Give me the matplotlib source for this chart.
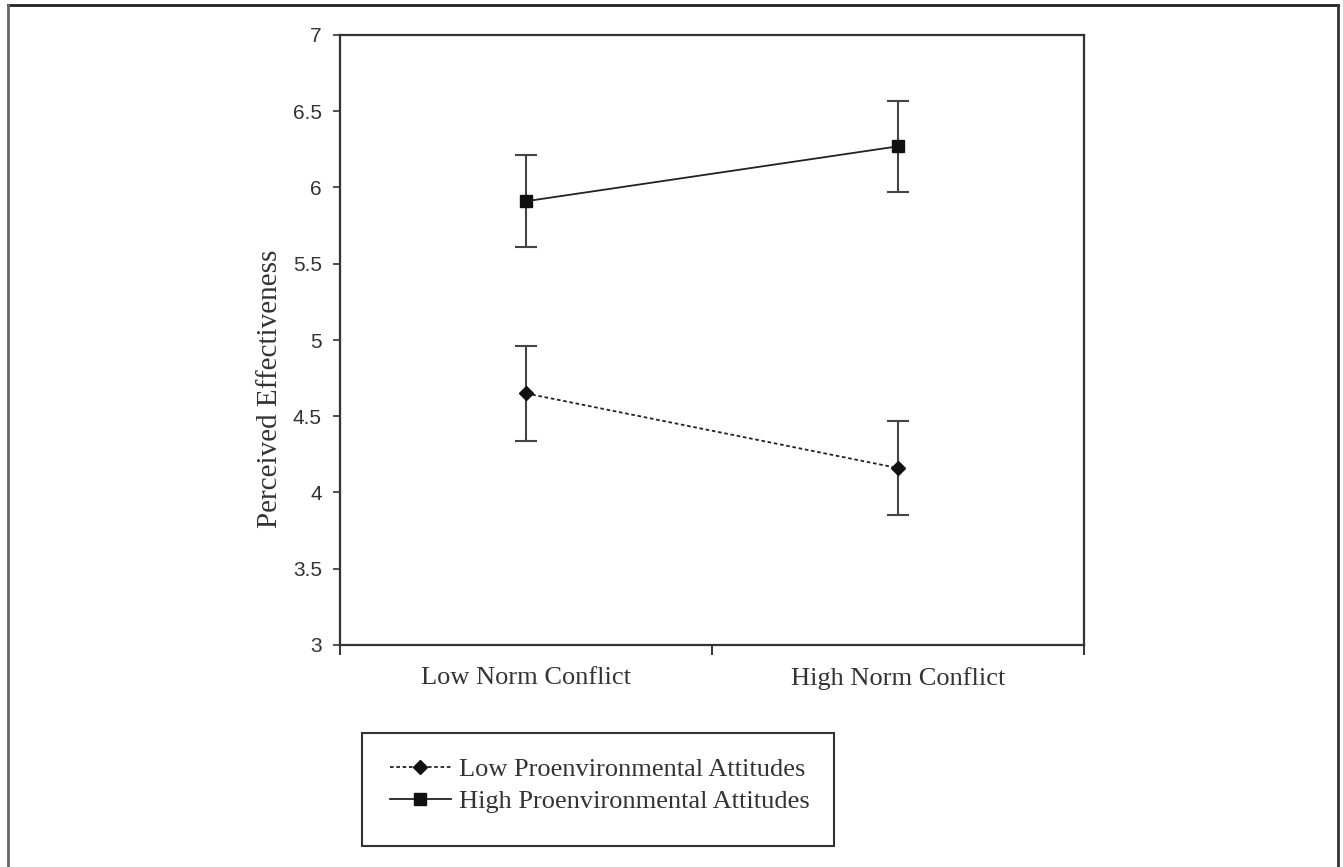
import matplotlib
matplotlib.use("Agg")
import matplotlib.pyplot as plt
from matplotlib.lines import Line2D
from matplotlib.patches import Rectangle

categories = ["Low Norm Conflict", "High Norm Conflict"]
low_att = [4.65, 4.16]
low_err = [0.31, 0.31]
high_att = [5.91, 6.27]
high_err = [0.30, 0.30]
series_labels = ["Low Proenvironmental Attitudes", "High Proenvironmental Attitudes"]
yticks = [3, 3.5, 4, 4.5, 5, 5.5, 6, 6.5, 7]

W, H = 1343, 867
fig = plt.figure(figsize=(W / 100, H / 100), dpi=100)
ax = fig.add_axes([340 / W, 1 - 645 / H, (1084 - 340) / W, (645 - 35) / H])

x = [0.5, 1.5]
low_style = dict(color="#222222", ls=(0, (2, 1.5)), lw=1.3, marker="D", ms=7, mfc="#111111", mec="#111111")
high_style = dict(color="#222222", ls="-", lw=1.3, marker="s", ms=9, mfc="#111111", mec="#111111")
ax.errorbar(x, low_att, yerr=low_err, ecolor="#444444",
            elinewidth=1.5, capsize=8, capthick=1.5, **low_style)
ax.errorbar(x, high_att, yerr=high_err, ecolor="#444444",
            elinewidth=1.5, capsize=8, capthick=1.5, **high_style)

ax.set_xlim(0, 2)
ax.set_ylim(3, 7)
ax.set_yticks(yticks)
ax.set_yticklabels([f"{v:g}" for v in yticks], fontfamily="Liberation Sans", fontsize=15, color="#333333")
ax.set_xticks([0, 1, 2])
ax.set_xticklabels([])
ax.set_xticks(x, minor=True)
ax.set_xticklabels(categories, minor=True, fontfamily="Liberation Serif", fontsize=19, color="#333333")
ax.tick_params(axis="x", which="minor", length=0, pad=16)
ax.tick_params(axis="x", which="major", direction="out", length=7, width=1.4, color="#333333")
ax.tick_params(axis="y", direction="out", length=5, width=1.2, color="#333333", pad=8)
for s in ax.spines.values():
    s.set_color("#333333")
    s.set_linewidth(1.6)
ax.set_ylabel("Perceived Effectiveness", fontfamily="Liberation Serif", fontsize=21, color="#333333")
ax.yaxis.set_label_coords(-0.076, 0.42)

handles = [Line2D([], [], **low_style), Line2D([], [], **high_style)]
leg = fig.legend(handles, series_labels, loc="upper left", bbox_to_anchor=(390 / W, 1 - 758 / H),
                 bbox_transform=fig.transFigure,
                 prop={"family": "Liberation Serif", "size": 19}, frameon=False,
                 handlelength=2.3, borderpad=0, labelspacing=0.3,
                 handletextpad=0.3, borderaxespad=0)
for t in leg.get_texts():
    t.set_color("#333333")
fig.add_artist(Rectangle((362 / W, 1 - 846 / H), (834 - 362) / W, (846 - 733) / H,
                         transform=fig.transFigure, fill=False, edgecolor="#333333", lw=1.5))

# outer frame
fig.add_artist(Line2D([8 / W, 1338 / W], [1 - 5 / H, 1 - 5 / H], transform=fig.transFigure, color="#222222", lw=2))
fig.add_artist(Line2D([8 / W, 8 / W], [1 - 5 / H, 0], transform=fig.transFigure, color="#666666", lw=2))
fig.add_artist(Line2D([1338 / W, 1338 / W], [1 - 5 / H, 0], transform=fig.transFigure, color="#333333", lw=2))

fig.savefig("out.png", dpi=100)
